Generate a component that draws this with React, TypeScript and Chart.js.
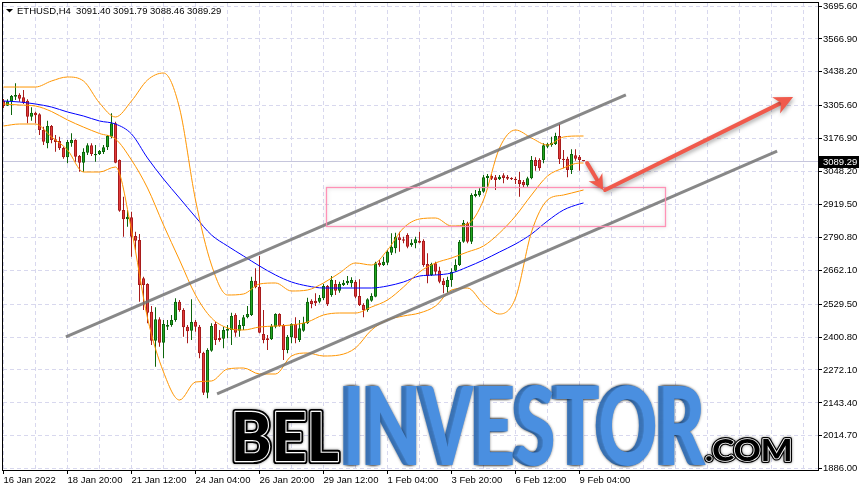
import React, { useEffect, useRef } from 'react';
import { Chart, registerables } from 'chart.js';

Chart.register(...registerables);

// ---------- data ----------
const SYMBOL = 'ETHUSD,H4';
const LAST_OHLC = [3091.40, 3091.79, 3088.46, 3089.29];

const OPEN = [
  3324.1, 3305.7, 3322.9, 3340.9, 3348.7, 3338.6, 3325.3, 3262.7, 3278.3, 3272.1,
  3210.7, 3158.7, 3226.3, 3174.3, 3167.6, 3140.3, 3103.9, 3158.7, 3171.6, 3109.0,
  3082.8, 3121.9, 3150.8, 3111.7, 3116.8, 3124.6, 3143.0, 3184.5, 3236.9, 3093.3,
  2897.8, 2861.4, 2869.2, 2796.1, 2780.5, 2630.7, 2608.4, 2500.0, 2386.6, 2470.3,
  2378.8, 2441.4, 2448.0, 2467.6, 2539.1, 2506.7, 2441.4, 2425.7, 2460.9, 2441.4,
  2339.7, 2183.2, 2347.5, 2451.9, 2397.2, 2394.4, 2425.7, 2428.5, 2487.1, 2425.7,
  2444.1, 2478.1, 2487.1, 2621.3, 2597.8, 2412.8, 2396.0, 2392.1, 2441.4, 2491.0,
  2448.0, 2350.3, 2399.9, 2451.9, 2389.4, 2425.7, 2454.7, 2543.1, 2543.1, 2539.1,
  2552.5, 2600.6, 2565.4, 2608.4, 2582.2, 2604.5, 2611.1, 2611.1, 2617.4, 2561.4,
  2526.2, 2506.7, 2543.1, 2558.7, 2691.7, 2682.7, 2691.7, 2730.8, 2748.0, 2791.0,
  2783.2, 2800.0, 2760.9, 2767.5, 2777.7, 2777.7, 2686.6, 2643.6, 2689.3, 2660.4,
  2621.3, 2596.6, 2624.0, 2660.4, 2682.7, 2773.8, 2845.8, 2773.8, 2952.5, 2955.3,
  2969.4, 3022.9, 3030.8, 3025.7, 3017.9, 3033.5, 3028.0, 3022.9, 3020.2, 3015.1,
  3007.3, 2994.4, 3021.8, 3093.3, 3093.3, 3093.3, 3145.4, 3152.0, 3155.9, 3187.2,
  3098.4, 3098.4, 3054.2, 3111.7, 3106.2, 3091.40,
];
const HIGH = [
  3331.9, 3330.7, 3347.6, 3393.3, 3354.2, 3367.1, 3330.7, 3299.4, 3282.2, 3276.0,
  3223.6, 3247.0, 3230.2, 3191.1, 3184.5, 3145.4, 3171.6, 3197.8, 3174.3, 3113.0,
  3139.1, 3158.7, 3158.7, 3152.0, 3132.5, 3152.0, 3191.1, 3276.0, 3243.1, 3095.0,
  2949.8, 2897.8, 2891.1, 2812.9, 2803.9, 2636.9, 2611.1, 2522.3, 2517.3, 2478.1,
  2467.6, 2467.6, 2487.1, 2552.5, 2545.8, 2513.3, 2448.0, 2548.5, 2467.6, 2448.0,
  2343.6, 2356.9, 2454.7, 2460.9, 2428.5, 2441.4, 2448.0, 2496.1, 2493.8, 2467.6,
  2487.1, 2522.3, 2636.9, 2669.8, 2717.9, 2506.7, 2408.9, 2451.9, 2493.8, 2493.8,
  2451.9, 2408.9, 2454.7, 2478.1, 2467.6, 2480.5, 2554.8, 2548.5, 2572.0, 2565.4,
  2608.4, 2604.5, 2639.7, 2624.0, 2617.4, 2624.0, 2639.7, 2634.6, 2624.0, 2626.8,
  2532.9, 2552.5, 2572.0, 2695.6, 2702.2, 2715.2, 2741.3, 2806.7, 2809.0, 2812.9,
  2793.4, 2806.7, 2783.2, 2793.4, 2812.9, 2783.2, 2728.5, 2691.7, 2695.6, 2676.0,
  2630.7, 2636.9, 2669.8, 2705.0, 2780.5, 2858.7, 2852.0, 2963.1, 2976.0, 2982.7,
  3034.7, 3038.6, 3038.6, 3034.7, 3034.7, 3041.3, 3034.7, 3025.7, 3028.0, 3047.6,
  3015.1, 3028.0, 3109.0, 3103.9, 3100.0, 3158.7, 3161.0, 3184.5, 3200.1, 3234.1,
  3132.5, 3106.2, 3135.2, 3135.2, 3113.0, 3091.79,
];
const LOW = [
  3296.7, 3304.5, 3269.3, 3328.0, 3321.4, 3312.4, 3236.9, 3247.0, 3236.9, 3191.1,
  3152.0, 3139.1, 3158.7, 3125.8, 3132.5, 3098.4, 3080.4, 3145.4, 3086.7, 3047.6,
  3047.6, 3113.0, 3109.0, 3086.7, 3113.0, 3116.8, 3132.5, 3178.2, 3080.4, 2891.1,
  2793.4, 2832.5, 2715.2, 2741.3, 2539.1, 2506.7, 2454.7, 2369.8, 2284.9, 2363.2,
  2317.8, 2428.5, 2441.4, 2460.9, 2500.0, 2402.3, 2376.5, 2389.4, 2421.8, 2317.8,
  2174.3, 2161.3, 2343.6, 2369.8, 2382.7, 2356.9, 2396.0, 2369.8, 2402.3, 2402.3,
  2428.5, 2474.2, 2483.2, 2591.5, 2415.5, 2376.5, 2350.3, 2389.4, 2435.1, 2441.4,
  2311.1, 2337.3, 2376.5, 2376.5, 2381.5, 2421.8, 2451.9, 2513.3, 2522.3, 2532.9,
  2545.8, 2522.3, 2558.7, 2565.4, 2574.4, 2600.6, 2604.5, 2595.5, 2552.5, 2522.3,
  2478.1, 2500.0, 2539.1, 2556.4, 2676.0, 2678.8, 2682.7, 2721.8, 2728.5, 2734.7,
  2767.5, 2748.0, 2754.3, 2748.0, 2767.5, 2676.0, 2611.1, 2639.7, 2643.6, 2611.1,
  2572.0, 2574.4, 2597.8, 2656.5, 2678.8, 2769.9, 2767.5, 2764.8, 2947.5, 2949.8,
  2965.5, 2986.6, 3015.1, 2976.0, 3015.1, 3002.2, 3015.1, 3015.1, 2999.5, 2949.8,
  2986.6, 2988.9, 3017.9, 3051.5, 3051.5, 3080.4, 3139.1, 3145.4, 3152.0, 3077.7,
  3060.9, 3025.7, 3038.6, 3090.6, 3051.5, 3088.46,
];
const CLOSE = [
  3304.5, 3322.9, 3343.6, 3347.6, 3333.1, 3317.4, 3262.7, 3278.3, 3268.2, 3210.7,
  3164.9, 3226.3, 3171.6, 3163.7, 3139.1, 3103.9, 3163.7, 3171.6, 3106.2, 3082.8,
  3125.8, 3150.8, 3116.8, 3116.8, 3128.5, 3143.0, 3187.2, 3236.9, 3082.8, 2895.1,
  2861.4, 2871.6, 2793.4, 2777.7, 2604.5, 2604.5, 2496.1, 2386.6, 2470.3, 2378.8,
  2451.9, 2448.0, 2467.6, 2539.1, 2506.7, 2439.0, 2423.4, 2459.8, 2441.4, 2337.3,
  2183.2, 2350.3, 2444.1, 2389.4, 2389.4, 2428.5, 2432.4, 2483.2, 2417.9, 2448.0,
  2478.1, 2491.0, 2621.3, 2595.5, 2417.9, 2389.4, 2389.4, 2444.1, 2491.0, 2444.1,
  2350.3, 2402.3, 2451.9, 2396.0, 2435.1, 2457.0, 2539.1, 2530.2, 2532.9, 2554.8,
  2600.6, 2530.2, 2624.0, 2582.2, 2608.4, 2613.5, 2621.3, 2624.0, 2558.7, 2526.2,
  2506.7, 2548.5, 2561.4, 2689.3, 2681.5, 2695.6, 2734.7, 2754.3, 2793.4, 2780.5,
  2777.7, 2754.3, 2769.9, 2783.2, 2769.9, 2682.7, 2639.7, 2686.6, 2656.5, 2617.4,
  2604.5, 2624.0, 2656.5, 2682.7, 2773.8, 2848.1, 2773.8, 2956.5, 2960.4, 2972.1,
  3025.7, 3030.8, 3020.2, 3015.1, 3028.0, 3022.9, 3020.2, 3017.9, 3015.1, 2999.5,
  2994.4, 3021.8, 3093.3, 3069.9, 3060.9, 3150.8, 3155.9, 3161.0, 3187.2, 3096.1,
  3093.3, 3054.2, 3116.8, 3098.4, 3093.3, 3089.29,
];

// Bollinger bands (20) and moving average, read at every 4th bar
const BAND_X = [0, 4, 8, 12, 16, 20, 24, 28, 32, 36, 40, 44, 48, 52, 56, 60, 64, 68, 72,
  76, 80, 84, 88, 92, 96, 100, 104, 108, 112, 116, 120, 124, 128, 132, 136, 140, 144, 145];
const UPPER = [3378.8, 3378.8, 3378.8, 3402.3, 3418.0, 3402.3, 3316.3, 3261.5, 3324.1, 3406.2,
  3433.6, 3296.7, 2936.9, 2682.7, 2565.4, 2569.3, 2608.4, 2612.3, 2581.0, 2584.9,
  2612.3, 2651.4, 2690.5, 2682.7, 2741.3, 2827.4, 2862.6, 2866.5, 2835.2, 2843.0,
  2936.9, 3140.3, 3210.7, 3179.4, 3152.0, 3183.3, 3187.2, 3187.2];
const MIDDLE = [3312.4, 3308.5, 3304.5, 3283.0, 3250.0, 3222.0, 3197.0, 3175.5, 3093.3, 2983.8,
  2839.1, 2702.2, 2565.4, 2475.4, 2436.3, 2428.5, 2440.2, 2444.1, 2448.0, 2459.8,
  2487.1, 2494.9, 2494.9, 2518.4, 2545.8, 2596.6, 2655.3, 2690.5, 2710.1, 2733.5,
  2757.0, 2807.8, 2874.3, 2956.5, 3030.8, 3062.1, 3081.6, 3081.6];
const LOWER = [3226.3, 3234.1, 3234.1, 3183.3, 3132.5, 3046.4, 3046.4, 3066.0, 2819.6, 2475.4,
  2264.2, 2154.7, 2225.1, 2229.0, 2275.9, 2279.8, 2256.4, 2256.4, 2326.8, 2338.5,
  2326.8, 2330.7, 2358.1, 2428.5, 2467.6, 2483.2, 2494.9, 2522.3, 2584.9, 2592.7,
  2530.2, 2491.0, 2553.6, 2811.7, 2936.9, 2956.5, 2972.1, 2976.0];
const MA = [3324.1, 3320.2, 3312.4, 3300.6, 3281.1, 3265.4, 3245.9, 3234.1, 3195.0, 3101.2,
  3019.0, 2944.7, 2870.4, 2800.0, 2757.0, 2717.9, 2678.8, 2643.6, 2616.2, 2600.6,
  2592.7, 2592.7, 2592.7, 2592.7, 2600.6, 2616.2, 2639.7, 2643.6, 2651.4, 2674.9,
  2702.2, 2733.5, 2764.8, 2803.9, 2854.8, 2897.8, 2921.3, 2925.2];

const Y_TICKS = [1886.00, 2014.70, 2143.40, 2272.10, 2400.80, 2529.50, 2662.10, 2790.80,
  2919.50, 3048.20, 3176.90, 3305.60, 3438.20, 3566.90, 3695.60];
const X_LABEL_IDX = [0, 16, 32, 48, 64, 80, 96, 112, 128, 144];
const X_LABELS = ['16 Jan 2022', '18 Jan 20:00', '21 Jan 12:00', '24 Jan 04:00', '26 Jan 20:00',
  '29 Jan 12:00', '1 Feb 04:00', '3 Feb 20:00', '6 Feb 12:00', '9 Feb 04:00'];

// drawings, in (bar index, price)
const CHANNEL_UP_X = [15.6, 155.6];
const CHANNEL_UP_Y = [2401.1, 3347.6];
const CHANNEL_DN_X = [53.4, 193.4];
const CHANNEL_DN_Y = [2178.2, 3128.5];
const ZONE_X = [80.6, 165.4];
const ZONE_Y = [2835.2, 2986.6];
const ARROW_DOWN_X = [145.9, 149.9];
const ARROW_DOWN_Y = [3081.6, 2976.0];
const ARROW_UP_X = [150.4, 197.4];
const ARROW_UP_Y = [2976.0, 3339.7];

const X_MIN = -0.125;
const X_MAX = 203.625;
const Y_MIN = 1880.9;
const Y_MAX = 3707.4;
const X_GRID: number[] = [];
for (let v = 0; v <= 200; v += 8) X_GRID.push(v);

// ---------- styles ----------
const FONT = "'Liberation Sans', Arial, sans-serif";
const GRID = '#d8d8ee';
const BULL_BODY = '#22a822';
const BULL_EDGE = '#0c650c';
const BEAR_BODY = '#e23b3b';
const BEAR_EDGE = '#a81c1c';
const BAND = '#ff9500';
const MA_COLOR = '#0000ff';
const ARROW = '#f05a4c';

function drawArrow(ctx: CanvasRenderingContext2D, x1: number, y1: number, x2: number, y2: number, L: number, W: number) {
  const a = Math.atan2(y2 - y1, x2 - x1);
  const c = Math.cos(a), s = Math.sin(a);
  const notch = L * 0.3;
  const bx = x2 - c * (L - notch), by = y2 - s * (L - notch);
  ctx.beginPath();
  ctx.moveTo(x1, y1);
  ctx.lineTo(bx, by);
  ctx.stroke();
  ctx.beginPath();
  ctx.moveTo(x2, y2);
  ctx.lineTo(x2 - c * L - s * W, y2 - s * L + c * W);
  ctx.lineTo(bx, by);
  ctx.lineTo(x2 - c * L + s * W, y2 - s * L - c * W);
  ctx.closePath();
  ctx.fill();
}

function fitText(ctx: CanvasRenderingContext2D, text: string, font: string,
  left: number, right: number, top: number, bottom: number,
  paint: (c: CanvasRenderingContext2D, sx: number, sy: number) => void, extraW = 0) {
  ctx.save();
  ctx.font = font;
  ctx.textAlign = 'left';
  ctx.textBaseline = 'alphabetic';
  const m = ctx.measureText(text);
  const inkW = m.actualBoundingBoxLeft + m.actualBoundingBoxRight;
  const inkH = m.actualBoundingBoxAscent;
  const sx = (right - left - extraW) / inkW;
  const sy = (bottom - top) / inkH;
  ctx.translate(left, bottom);
  ctx.scale(sx, sy);
  ctx.translate(m.actualBoundingBoxLeft, 0);
  paint(ctx, sx, sy);
  ctx.restore();
}

function engraved(ctx: CanvasRenderingContext2D, text: string, font: string,
  left: number, right: number, top: number, bottom: number, outer: number, inner: number) {
  const inset = outer / 2;
  fitText(ctx, text, font, left + inset, right - inset, top + inset, bottom - inset, (c, sx, sy) => {
    const k = (sx + sy) / 2;
    c.lineJoin = 'round';
    c.shadowColor = 'rgba(0,0,0,0.45)';
    c.shadowBlur = 3;
    c.strokeStyle = '#000';
    c.lineWidth = outer / k;
    c.strokeText(text, 0, 0);
    c.shadowColor = 'transparent';
    c.strokeStyle = '#fff';
    c.lineWidth = inner / k;
    c.strokeText(text, 0, 0);
    c.fillStyle = '#000';
    c.fillText(text, 0, 0);
  });
}

const overlayPlugin = {
  id: 'overlay',
  beforeDatasetsDraw(chart: any) {
    const { ctx, chartArea: a, scales } = chart;
    const py = Math.round(scales.y.getPixelForValue(LAST_OHLC[3])) + 0.5;
    ctx.save();
    ctx.strokeStyle = '#c6c6dc';
    ctx.lineWidth = 1;
    ctx.beginPath();
    ctx.moveTo(a.left, py);
    ctx.lineTo(a.right, py);
    ctx.stroke();
    ctx.restore();
  },
  afterDatasetsDraw(chart: any) {
    const { ctx, scales: { x, y } } = chart;
    // zone rectangle
    const zx0 = Math.round(x.getPixelForValue(ZONE_X[0])) + 0.5;
    const zx1 = Math.round(x.getPixelForValue(ZONE_X[1])) + 0.5;
    const zyTop = Math.round(y.getPixelForValue(ZONE_Y[1])) + 0.5;
    const zyBot = Math.round(y.getPixelForValue(ZONE_Y[0])) + 0.5;
    ctx.save();
    ctx.shadowColor = 'rgba(0,0,0,0.18)';
    ctx.shadowBlur = 4;
    ctx.strokeStyle = 'rgba(255,140,178,0.95)';
    ctx.lineWidth = 1.3;
    ctx.strokeRect(zx0, zyTop, zx1 - zx0, zyBot - zyTop);
    ctx.restore();
    // arrows
    ctx.save();
    ctx.strokeStyle = ARROW;
    ctx.fillStyle = ARROW;
    ctx.lineWidth = 4;
    ctx.lineCap = 'round';
    ctx.shadowColor = 'rgba(0,0,0,0.35)';
    ctx.shadowBlur = 4;
    ctx.shadowOffsetX = 1;
    ctx.shadowOffsetY = 2;
    drawArrow(ctx, x.getPixelForValue(ARROW_DOWN_X[0]), y.getPixelForValue(ARROW_DOWN_Y[0]),
      x.getPixelForValue(ARROW_DOWN_X[1]), y.getPixelForValue(ARROW_DOWN_Y[1]), 15, 8);
    drawArrow(ctx, x.getPixelForValue(ARROW_UP_X[0]), y.getPixelForValue(ARROW_UP_Y[0]),
      x.getPixelForValue(ARROW_UP_X[1]), y.getPixelForValue(ARROW_UP_Y[1]), 19, 9);
    ctx.restore();
  },
  afterDraw(chart: any) {
    const { ctx, chartArea: a, scales: { y } } = chart;
    ctx.save();
    // frame
    ctx.strokeStyle = '#000';
    ctx.lineWidth = 1;
    ctx.strokeRect(a.left - 0.5, a.top - 0.5, a.right - a.left + 1, a.bottom - a.top + 1);
    // header
    ctx.fillStyle = '#000';
    ctx.beginPath();
    ctx.moveTo(6, 9);
    ctx.lineTo(13, 9);
    ctx.lineTo(9.5, 12.5);
    ctx.closePath();
    ctx.fill();
    ctx.font = `9.5px ${FONT}`;
    ctx.textBaseline = 'alphabetic';
    ctx.textAlign = 'left';
    ctx.fillText(`${SYMBOL}  ${LAST_OHLC.map(v => v.toFixed(2)).join(' ')}`, 17, 14);
    // last price box
    const py = Math.round(y.getPixelForValue(LAST_OHLC[3]));
    ctx.fillStyle = '#000';
    ctx.fillRect(a.right + 1, py - 5, 40, 12);
    ctx.fillStyle = '#fff';
    ctx.textBaseline = 'middle';
    ctx.fillText(LAST_OHLC[3].toFixed(2), a.right + 5, py + 1);
    ctx.restore();

    // watermark
    const heavy = "900 100px Lato, 'DejaVu Sans', sans-serif";
    engraved(ctx, 'BEL', heavy, 232, 341, 410, 464, 6, 2.2);
    const smear = 5;
    fitText(ctx, 'INVESTOR', heavy, 343, 706, 385, 465, (c, sx) => {
      c.fillStyle = '#4a8fe0';
      c.shadowColor = 'rgba(0,0,0,0.35)';
      c.shadowBlur = 3;
      for (let d = 0; d <= smear; d += 1) c.fillText('INVESTOR', d / sx, 0);
    }, smear);
    engraved(ctx, '.COM', heavy, 704, 792, 437, 463, 4, 1.6);
  },
};

export default function App() {
  const ref = useRef<HTMLCanvasElement>(null);
  useEffect(() => {
    const bull = OPEN.map((o, i) => CLOSE[i] >= o);
    const band = (vals: number[], color: string) => ({
      type: 'line' as const,
      data: BAND_X.map((v, k) => ({ x: v, y: vals[k] })),
      borderColor: color,
      borderWidth: 1,
      pointRadius: 0,
      cubicInterpolationMode: 'monotone' as const,
      order: 2,
    });
    const seg = (xs: number[], ys: number[]) => ({
      type: 'line' as const,
      data: xs.map((v, k) => ({ x: v, y: ys[k] })),
      borderColor: 'rgba(115,115,115,0.85)',
      borderWidth: 3,
      pointRadius: 0,
      order: 1,
    });
    const chart = new Chart(ref.current as HTMLCanvasElement, {
      type: 'bar',
      data: {
        datasets: [
          {
            type: 'bar',
            data: OPEN.map((_, i) => ({ x: i, y: [LOW[i], HIGH[i]] })) as any,
            backgroundColor: bull.map(b => (b ? BULL_EDGE : BEAR_EDGE)),
            borderWidth: 0,
            barThickness: 1,
            grouped: false,
            inflateAmount: 0,
            order: 5,
          } as any,
          {
            type: 'bar',
            data: OPEN.map((o, i) => ({ x: i, y: [o, CLOSE[i]] })) as any,
            backgroundColor: bull.map(b => (b ? BULL_BODY : BEAR_BODY)),
            borderColor: bull.map(b => (b ? BULL_EDGE : BEAR_EDGE)),
            borderWidth: 1,
            borderSkipped: false,
            barThickness: 3,
            minBarLength: 1,
            grouped: false,
            inflateAmount: 0,
            order: 4,
          } as any,
          band(UPPER, BAND),
          band(MIDDLE, BAND),
          band(LOWER, BAND),
          band(MA, MA_COLOR),
          seg(CHANNEL_UP_X, CHANNEL_UP_Y),
          seg(CHANNEL_DN_X, CHANNEL_DN_Y),
        ] as any,
      },
      options: {
        animation: false,
        responsive: false,
        devicePixelRatio: 1,
        events: [],
        layout: { padding: { left: 3, top: 3, right: 0, bottom: 0 } },
        plugins: { legend: { display: false }, tooltip: { enabled: false } },
        scales: {
          x: {
            type: 'linear',
            min: X_MIN,
            max: X_MAX,
            offset: false,
            afterBuildTicks: (s: any) => { s.ticks = X_GRID.map(v => ({ value: v })); },
            afterFit: (s: any) => { s.height = 22; s.paddingLeft = 0; s.paddingRight = 0; },
            grid: {
              offset: false,
              color: GRID,
              lineWidth: 1,
              tickLength: 4,
              tickColor: (c: any) => (c.tick && X_LABEL_IDX.indexOf(c.tick.value) >= 0 ? '#000' : 'rgba(0,0,0,0)'),
            },
            border: { display: false, dash: [4, 3] },
            ticks: {
              autoSkip: false,
              maxRotation: 0,
              minRotation: 0,
              align: 'start',
              padding: 1,
              color: '#000',
              font: { family: FONT, size: 9.5 },
              callback: (v: any) => {
                const k = X_LABEL_IDX.indexOf(Number(v));
                return k >= 0 ? X_LABELS[k] : '';
              },
            },
          } as any,
          y: {
            type: 'linear',
            position: 'right',
            min: Y_MIN,
            max: Y_MAX,
            afterBuildTicks: (s: any) => { s.ticks = Y_TICKS.map(v => ({ value: v })); },
            afterFit: (s: any) => { s.width = 45; s.paddingTop = 0; s.paddingBottom = 0; },
            grid: { color: GRID, lineWidth: 1, tickLength: 4, tickColor: '#000' },
            border: { display: false, dash: [4, 3] },
            ticks: {
              padding: 1,
              color: '#000',
              font: { family: FONT, size: 9.5 },
              callback: (v: any) => Number(v).toFixed(2),
            },
          } as any,
        },
      },
      plugins: [overlayPlugin],
    });
    return () => chart.destroy();
  }, []);
  return (
    <div style={{ position: 'fixed', left: 0, top: 0, width: 863, height: 492, background: '#fff' }}>
      <canvas ref={ref} width={863} height={492} style={{ display: 'block' }} />
    </div>
  );
}
